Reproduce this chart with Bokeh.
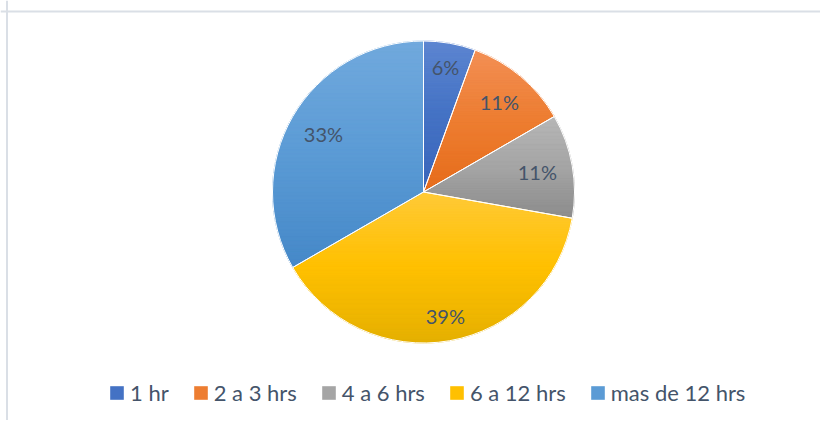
import numpy as np
from bokeh.plotting import figure
from bokeh.models import Range1d, Legend, LegendItem, Span, ColumnDataSource
from bokeh.core.properties import value
from bokeh.embed import file_html
from bokeh.resources import INLINE

# ---- data ----
categories = ["1 hr", "2 a 3 hrs", "4 a 6 hrs", "6 a 12 hrs", "mas de 12 hrs"]
counts = [1, 2, 2, 7, 6]

# ---- styles ----
base_colors = ["#4472C4", "#ED7D31", "#A5A5A5", "#FFC000", "#5B9BD5"]
top_colors = ["#5d86d1", "#f39056", "#b7b7b7", "#ffca38", "#71a9dd"]
bottom_colors = ["#3a66bb", "#e66c1b", "#8c8c8c", "#e5b000", "#4588c8"]
TEXT_COLOR = "#44546A"
FONT = "Lato"

W, H = 820, 420
p = figure(width=W, height=H, x_range=Range1d(0, W), y_range=Range1d(0, H),
           output_backend="svg", toolbar_location=None, min_border=0,
           x_axis_location=None, y_axis_location=None)
p.grid.visible = False
p.outline_line_color = None
p.background_fill_color = "white"
p.border_fill_color = "white"

# chart frame (top and left edges visible)
p.add_layout(Span(location=6.5, dimension="height", line_color="#dadfe6", line_width=2))
p.add_layout(Span(location=H - 11, dimension="width", line_color="#dadfe6", line_width=2))

cx, cy, R = 423.0, H - 191.5, 151.0

vals = np.array(counts, dtype=float)
frac = vals / vals.sum()
cum = np.concatenate([[0.0], np.cumsum(frac)])
starts = np.pi / 2 - 2 * np.pi * cum[:-1]
ends = np.pi / 2 - 2 * np.pi * cum[1:]


def hex2rgb(h):
    h = h.lstrip("#")
    return np.array([int(h[i:i + 2], 16) for i in (0, 2, 4)], dtype=float)


def rgb2hex(c):
    c = np.clip(np.round(c), 0, 255).astype(int)
    return "#%02x%02x%02x" % tuple(c)


def grad(top, base, bot, t):
    a, b, c = hex2rgb(top), hex2rgb(base), hex2rgb(bot)
    if t < 0.5:
        return rgb2hex(a + (b - a) * (t / 0.5))
    return rgb2hex(b + (c - b) * ((t - 0.5) / 0.5))


def clip(poly, y0, keep_above):
    out = []
    n = len(poly)
    for k in range(n):
        P = poly[k]
        Q = poly[(k + 1) % n]
        inP = P[1] >= y0 if keep_above else P[1] <= y0
        inQ = Q[1] >= y0 if keep_above else Q[1] <= y0
        if inP:
            out.append(P)
        if inP != inQ:
            t = (y0 - P[1]) / (Q[1] - P[1])
            out.append((P[0] + t * (Q[0] - P[0]), y0))
    return out


legend_items = []
for i, cat in enumerate(categories):
    src = ColumnDataSource(dict(x=[cx], y=[cy], s=[ends[i]], e=[starts[i]]))
    r = p.wedge(x="x", y="y", radius=R, start_angle="s", end_angle="e",
                source=src, fill_color=base_colors[i], line_color=None)
    legend_items.append(LegendItem(label=cat, renderers=[r]))

    # vertical gradient as thin bands
    th = np.linspace(starts[i], ends[i], 240)
    poly = [(cx, cy)] + list(zip(cx + R * np.cos(th), cy + R * np.sin(th)))
    ys = [q[1] for q in poly]
    ytop, ybot = max(ys), min(ys)
    nb = 60
    edges = np.linspace(ytop, ybot, nb + 1)
    bx, by, bc = [], [], []
    for k in range(nb):
        band = clip(clip(poly, edges[k + 1], True), edges[k], False)
        if len(band) < 3:
            continue
        bx.append([q[0] for q in band])
        by.append([q[1] for q in band])
        bc.append(grad(top_colors[i], base_colors[i], bottom_colors[i], (k + 0.5) / nb))
    p.patches(xs=bx, ys=by, fill_color=bc, line_color=bc, line_width=0.8)

# white separators
p.wedge(x=cx, y=cy, radius=R, start_angle=ends, end_angle=starts,
        fill_alpha=0, line_color="white", line_width=1)

# data labels
labels = ["%d%%" % round(f * 100) for f in frac]
mids = (starts + ends) / 2
lx, ly = [], []
for lab, m in zip(labels, mids):
    hw = 6.75 * len(lab)
    hh = 7.5
    rr = 0.906 * R - hw * abs(np.cos(m)) - hh * abs(np.sin(m))
    lx.append(cx + rr * np.cos(m))
    ly.append(cy + rr * np.sin(m))
p.text(x=lx, y=ly, text=labels, text_align="center", text_baseline="middle",
       text_font=value(FONT), text_font_size="20px", text_color=TEXT_COLOR)

legend = Legend(items=legend_items, orientation="horizontal", location=(108, H - 425 + 19.5),
                glyph_width=17, glyph_height=17, label_standoff=5, spacing=23,
                padding=0, margin=0, border_line_color=None, background_fill_alpha=0,
                label_text_font=FONT, label_text_font_size="22px",
                label_text_color=TEXT_COLOR)
p.add_layout(legend)

open("out.html", "w").write(file_html(p, INLINE))
